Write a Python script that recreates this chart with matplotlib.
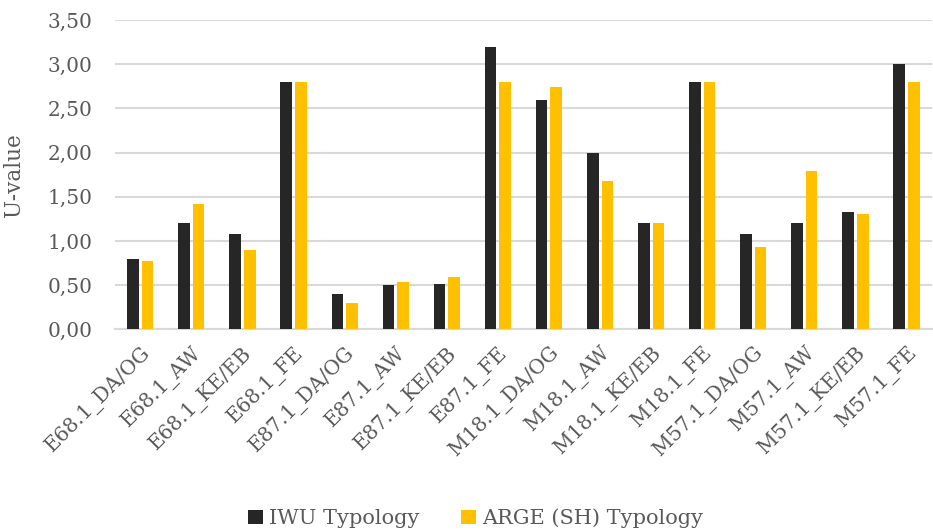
import numpy as np
import matplotlib
matplotlib.use("Agg")
import matplotlib.pyplot as plt

COL_IWU = "#262626"
COL_ARGE = "#ffc000"
COL_TEXT = "#595959"
COL_GRID = "#d9d9d9"

categories = [
    "E68.1_DA/OG", "E68.1_AW", "E68.1_KE/EB", "E68.1_FE",
    "E87.1_DA/OG", "E87.1_AW", "E87.1_KE/EB", "E87.1_FE",
    "M18.1_DA/OG", "M18.1_AW", "M18.1_KE/EB", "M18.1_FE",
    "M57.1_DA/OG", "M57.1_AW", "M57.1_KE/EB", "M57.1_FE",
]
iwu = [0.80, 1.20, 1.08, 2.80, 0.40, 0.50, 0.51, 3.20,
       2.60, 2.00, 1.20, 2.80, 1.08, 1.20, 1.33, 3.00]
arge = [0.77, 1.42, 0.90, 2.80, 0.30, 0.54, 0.59, 2.80,
        2.74, 1.68, 1.20, 2.80, 0.93, 1.79, 1.30, 2.80]
y_ticks = [0.0, 0.5, 1.0, 1.5, 2.0, 2.5, 3.0, 3.5]

plt.rcParams["font.family"] = ["DejaVu Serif"]
plt.rcParams["font.size"] = 14

fig = plt.figure(figsize=(9.33, 5.31), dpi=100)
ax = fig.add_axes([0.123, 0.380, 0.876, 0.582])

x = np.arange(len(categories))
w = 0.227
off = 0.143
ax.bar(x - off, iwu, width=w, color=COL_IWU, label="IWU Typology", zorder=3)
ax.bar(x + off, arge, width=w, color=COL_ARGE, label="ARGE (SH) Typology", zorder=3)

ax.set_xlim(-0.5, len(categories) - 0.5)
ax.set_ylim(0, 3.5)
ax.set_yticks(y_ticks)
ax.set_yticklabels([f"{v:.2f}".replace(".", ",") for v in y_ticks])
ax.set_xticks(x)
ax.set_xticklabels(categories, rotation=45, ha="right", rotation_mode="anchor")

ax.grid(axis="y", color=COL_GRID, linewidth=1.5, zorder=0)
for s in ["top", "right", "left"]:
    ax.spines[s].set_visible(False)
ax.spines["bottom"].set_color(COL_GRID)
ax.spines["bottom"].set_linewidth(1.5)
ax.tick_params(axis="both", length=0, colors=COL_TEXT, labelsize=14.5)
ax.tick_params(axis="x", pad=10)
ax.tick_params(axis="y", pad=16)

ax.set_ylabel("U-value", color=COL_TEXT, fontsize=15.5, labelpad=16)

fig.legend(loc="lower center", bbox_to_anchor=(0.51, -0.03), ncol=2,
           frameon=False, handlelength=0.7, handleheight=0.7,
           handletextpad=0.3, columnspacing=2.0, fontsize=15,
           labelcolor=COL_TEXT)

fig.savefig("out.png", dpi=100)
